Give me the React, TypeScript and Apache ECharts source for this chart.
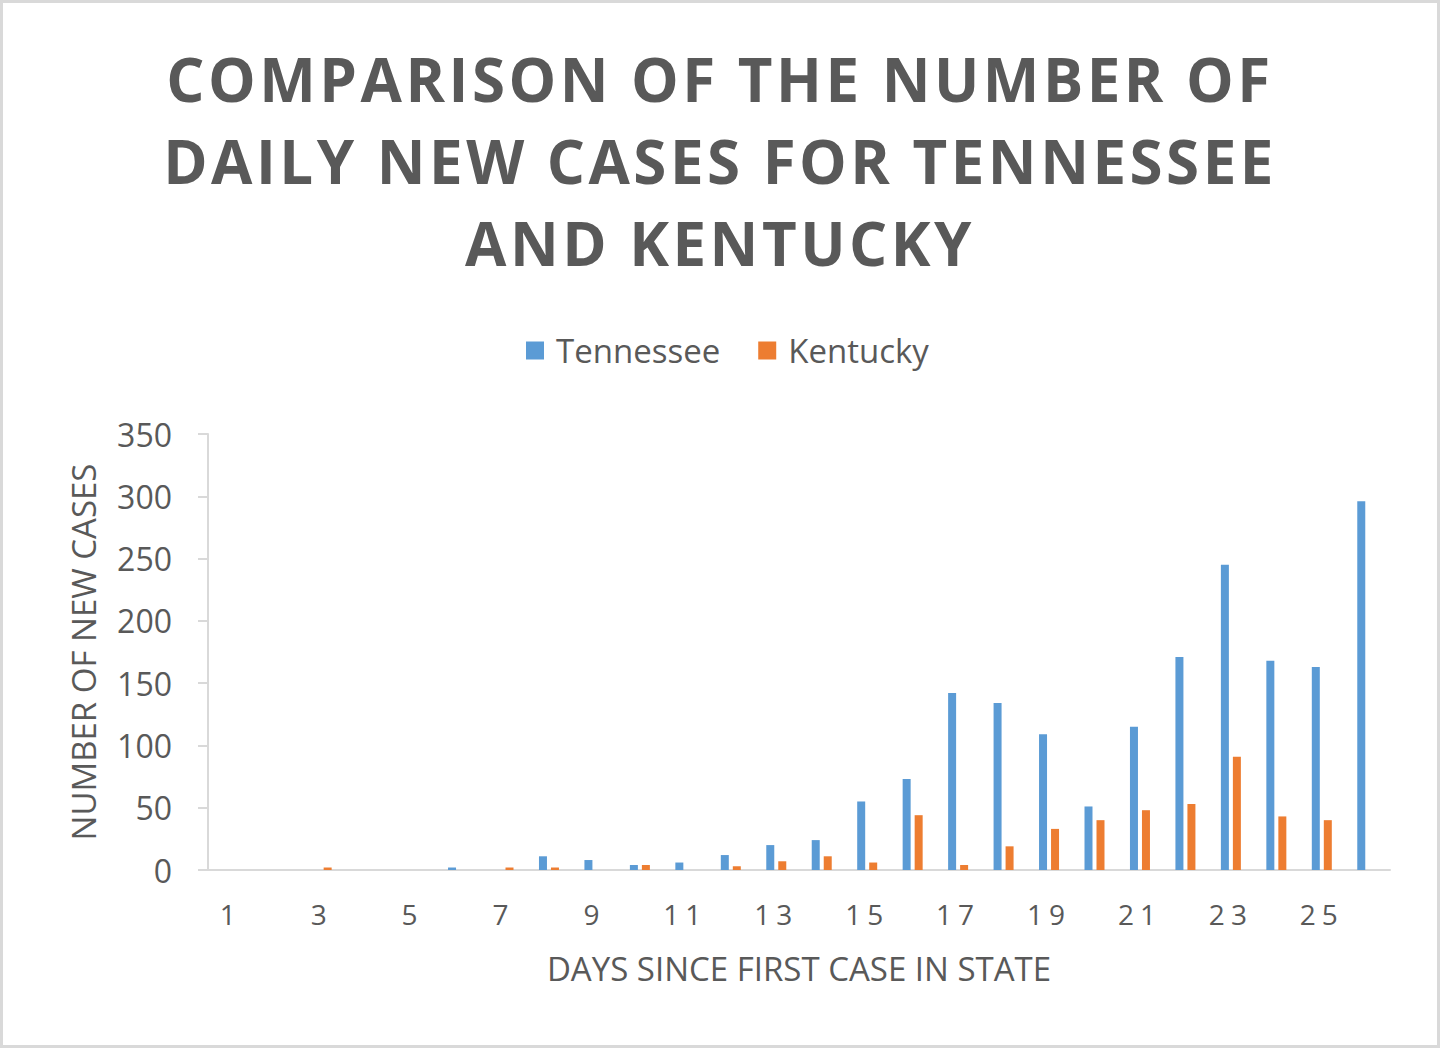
import React, { useEffect, useRef } from "react";
import * as echarts from "echarts";

const days = ["1","2","3","4","5","6","7","8","9","10","11","12","13","14","15","16","17","18","19","20","21","22","23","24","25","26"];
const tennessee = [0, 0, 0, 0, 0, 2, 0, 11, 8, 4, 6, 12, 20, 24, 55, 73, 142, 134, 109, 51, 115, 171, 245, 168, 163, 296];
const kentucky = [0, 0, 2, 0, 0, 0, 2, 2, 0, 4, 0, 3, 7, 11, 6, 44, 4, 19, 33, 40, 48, 53, 91, 43, 40, 0];
const yTicks = [0, 50, 100, 150, 200, 250, 300, 350];

const TEXT = "#595959";
const FONT = "'Open Sans', 'Noto Sans', sans-serif";

export default function App() {
  const ref = useRef<HTMLDivElement>(null);
  useEffect(() => {
    if (!ref.current) return;
    const chart = echarts.init(ref.current, null, { renderer: "svg" });
    chart.setOption({
      animation: false,
      backgroundColor: "#ffffff",
      graphic: [
        {
          type: "rect",
          shape: { x: 1.5, y: 1.5, width: 1437, height: 1045 },
          style: { fill: "none", stroke: "#d9d9d9", lineWidth: 3 },
        },
      ],
      title: {
        text: "COMPARISON OF THE NUMBER OF\nDAILY NEW CASES FOR TENNESSEE\nAND KENTUCKY",
        left: "center",
        top: 33,
        textStyle: {
          fontFamily: FONT,
          fontWeight: "bold",
          fontSize: 60,
          lineHeight: 82,
          color: TEXT,
        },
      },
      legend: {
        top: 329,
        left: 521,
        itemWidth: 18,
        itemHeight: 18,
        itemGap: 38,
        icon: "rect",
        textStyle: { fontFamily: FONT, fontSize: 33, color: TEXT, padding: [0, 0, 0, 7] },
        data: ["Tennessee", "Kentucky"],
      },
      grid: { left: 208, right: 50, top: 434, bottom: 178 },
      xAxis: {
        type: "category",
        data: days,
        name: "DAYS SINCE FIRST CASE IN STATE",
        nameLocation: "middle",
        nameGap: 82,
        nameTextStyle: { fontFamily: FONT, fontSize: 33, color: TEXT },
        axisLine: { lineStyle: { color: "#d9d9d9", width: 2 } },
        axisTick: { show: false },
        axisLabel: {
          interval: 1,
          margin: 30,
          fontFamily: FONT,
          fontSize: 28,
          color: TEXT,
        },
      },
      yAxis: {
        type: "value",
        min: yTicks[0],
        max: yTicks[yTicks.length - 1],
        interval: 50,
        name: "NUMBER OF NEW CASES",
        nameLocation: "middle",
        nameGap: 108,
        nameRotate: 90,
        nameTextStyle: { fontFamily: FONT, fontSize: 33, color: TEXT },
        axisLine: { show: true, lineStyle: { color: "#d9d9d9", width: 2 } },
        axisTick: { show: true, length: 10, lineStyle: { color: "#d9d9d9", width: 2 } },
        splitLine: { show: false },
        axisLabel: { margin: 36, fontFamily: FONT, fontSize: 32, color: TEXT },
      },
      series: [
        {
          name: "Tennessee",
          type: "bar",
          data: tennessee,
          barWidth: 8,
          barGap: "50%",
          itemStyle: { color: "#5B9BD5" },
        },
        {
          name: "Kentucky",
          type: "bar",
          data: kentucky,
          barWidth: 8,
          barGap: "50%",
          itemStyle: { color: "#ED7D31" },
        },
      ],
    });
    return () => chart.dispose();
  }, []);
  return (
    <div style={{ position: "fixed", left: 0, top: 0, width: 1440, height: 1048 }}>
      <style>{`
        .chartbox text[style*="bold"] { letter-spacing: 3.5px; }
        .chartbox text[style*="28px"] { letter-spacing: 6px; }
      `}</style>
      <div className="chartbox" ref={ref} style={{ width: 1440, height: 1048 }} />
    </div>
  );
}
